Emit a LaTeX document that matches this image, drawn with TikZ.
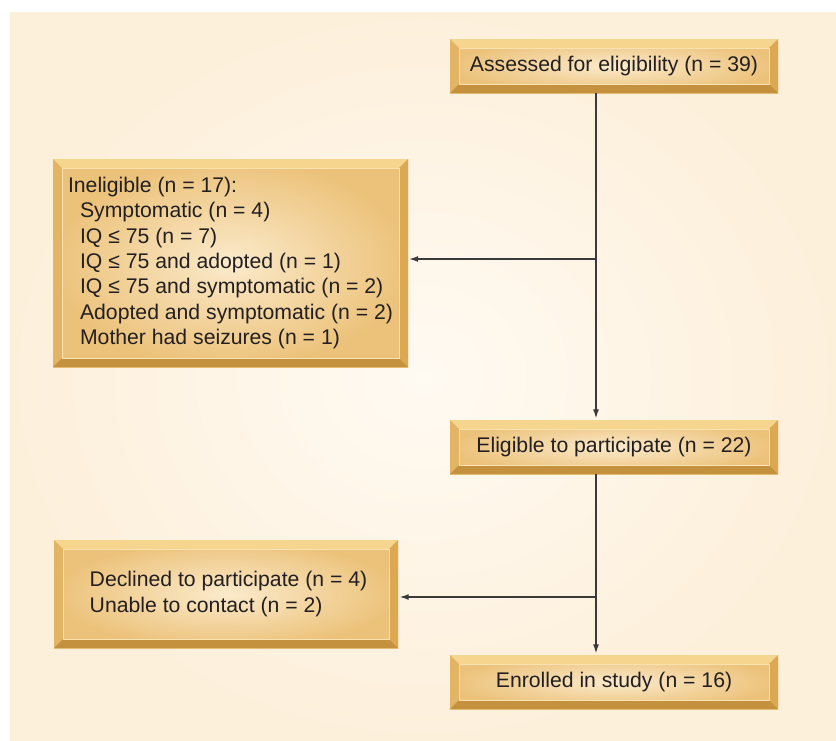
\documentclass[tikz,border=0pt]{standalone}
\usepackage{fontspec}
\setmainfont{Liberation Sans}
\usetikzlibrary{arrows.meta,calc}
\definecolor{bgIn}{HTML}{FFFAF2}
\definecolor{bgOut}{HTML}{FDF0DB}
\definecolor{faceIn}{HTML}{FBEACB}
\definecolor{faceOut}{HTML}{ECC27A}
\definecolor{bevTop}{HTML}{F6D68F}
\definecolor{bevLeft}{HTML}{E2B464}
\definecolor{bevRight}{HTML}{DCA852}
\definecolor{bevBottom}{HTML}{C4913E}
\definecolor{txt}{HTML}{231F20}
\definecolor{linec}{HTML}{3A3A3A}
\newcommand\bw{9pt}
\tikzset{
  box/.style={rectangle, inner sep=0pt, text=txt,
    font=\fontsize{21.2}{25.4}\selectfont,
    shading=radial, inner color=faceIn, outer color=faceOut,
    path picture={
      \coordinate (pnw) at (path picture bounding box.north west);
      \coordinate (pne) at (path picture bounding box.north east);
      \coordinate (psw) at (path picture bounding box.south west);
      \coordinate (pse) at (path picture bounding box.south east);
      \fill[bevTop] (pnw) -- (pne) -- ($(pne)+(-\bw,-\bw)$) -- ($(pnw)+(\bw,-\bw)$) -- cycle;
      \fill[bevLeft] (pnw) -- ($(pnw)+(\bw,-\bw)$) -- ($(psw)+(\bw,\bw)$) -- (psw) -- cycle;
      \fill[bevRight] (pne) -- ($(pne)+(-\bw,-\bw)$) -- ($(pse)+(-\bw,\bw)$) -- (pse) -- cycle;
      \fill[bevBottom] (psw) -- ($(psw)+(\bw,\bw)$) -- ($(pse)+(-\bw,\bw)$) -- (pse) -- cycle;
      \draw[bevTop!70!white, line width=0.8pt] ($(pnw)+(\bw,-\bw)$) rectangle ($(pse)+(-\bw,\bw)$);
    }},
  conn/.style={draw=linec, line width=1.3pt, -{Latex[length=9pt,width=6pt]}},
  plain/.style={draw=linec, line width=1.3pt}
}
\begin{document}
\begin{tikzpicture}[x=1pt,y=1pt]
\useasboundingbox (0,0) rectangle (836,-740);
\fill[white] (0,0) rectangle (836,-740);
\shade[inner color=bgIn, outer color=bgOut] (10,-12) rectangle (836,-740);

\node[box, minimum width=328pt, minimum height=54pt] (A) at (614,-66) {Assessed for eligibility (n = 39)};
\node[box, minimum width=355pt, minimum height=208pt, align=left] (I) at (230.5,-263) {Ineligible (n = 17):\\
\hspace*{12pt}Symptomatic (n = 4)\\
\hspace*{12pt}IQ ≤ 75 (n = 7)\\
\hspace*{12pt}IQ ≤ 75 and adopted (n = 1)\\
\hspace*{12pt}IQ ≤ 75 and symptomatic (n = 2)\\
\hspace*{12pt}Adopted and symptomatic (n = 2)\\
\hspace*{12pt}Mother had seizures (n = 1)};
\node[box, minimum width=328pt, minimum height=54pt] (E) at (614,-447) {Eligible to participate (n = 22)};
\node[box, minimum width=344pt, minimum height=108pt, align=left] (D) at (226,-594) {\hspace*{5pt}Declined to participate (n = 4)\\
\hspace*{5pt}Unable to contact (n = 2)};
\node[box, minimum width=328pt, minimum height=54pt] (N) at (614,-682) {Enrolled in study (n = 16)};

\coordinate (j1) at (596,-259);
\coordinate (j2) at (596,-597);
\draw[conn, shorten >=1.5pt] (A.south -| j1) -- (E.north -| j1);
\draw[conn, shorten >=1.5pt] (E.south -| j2) -- (N.north -| j2);
\draw[conn, shorten >=1pt] (j1) -- (I.east |- j1);
\draw[conn, shorten >=1.5pt] (j2) -- (D.east |- j2);
\end{tikzpicture}
\end{document}
